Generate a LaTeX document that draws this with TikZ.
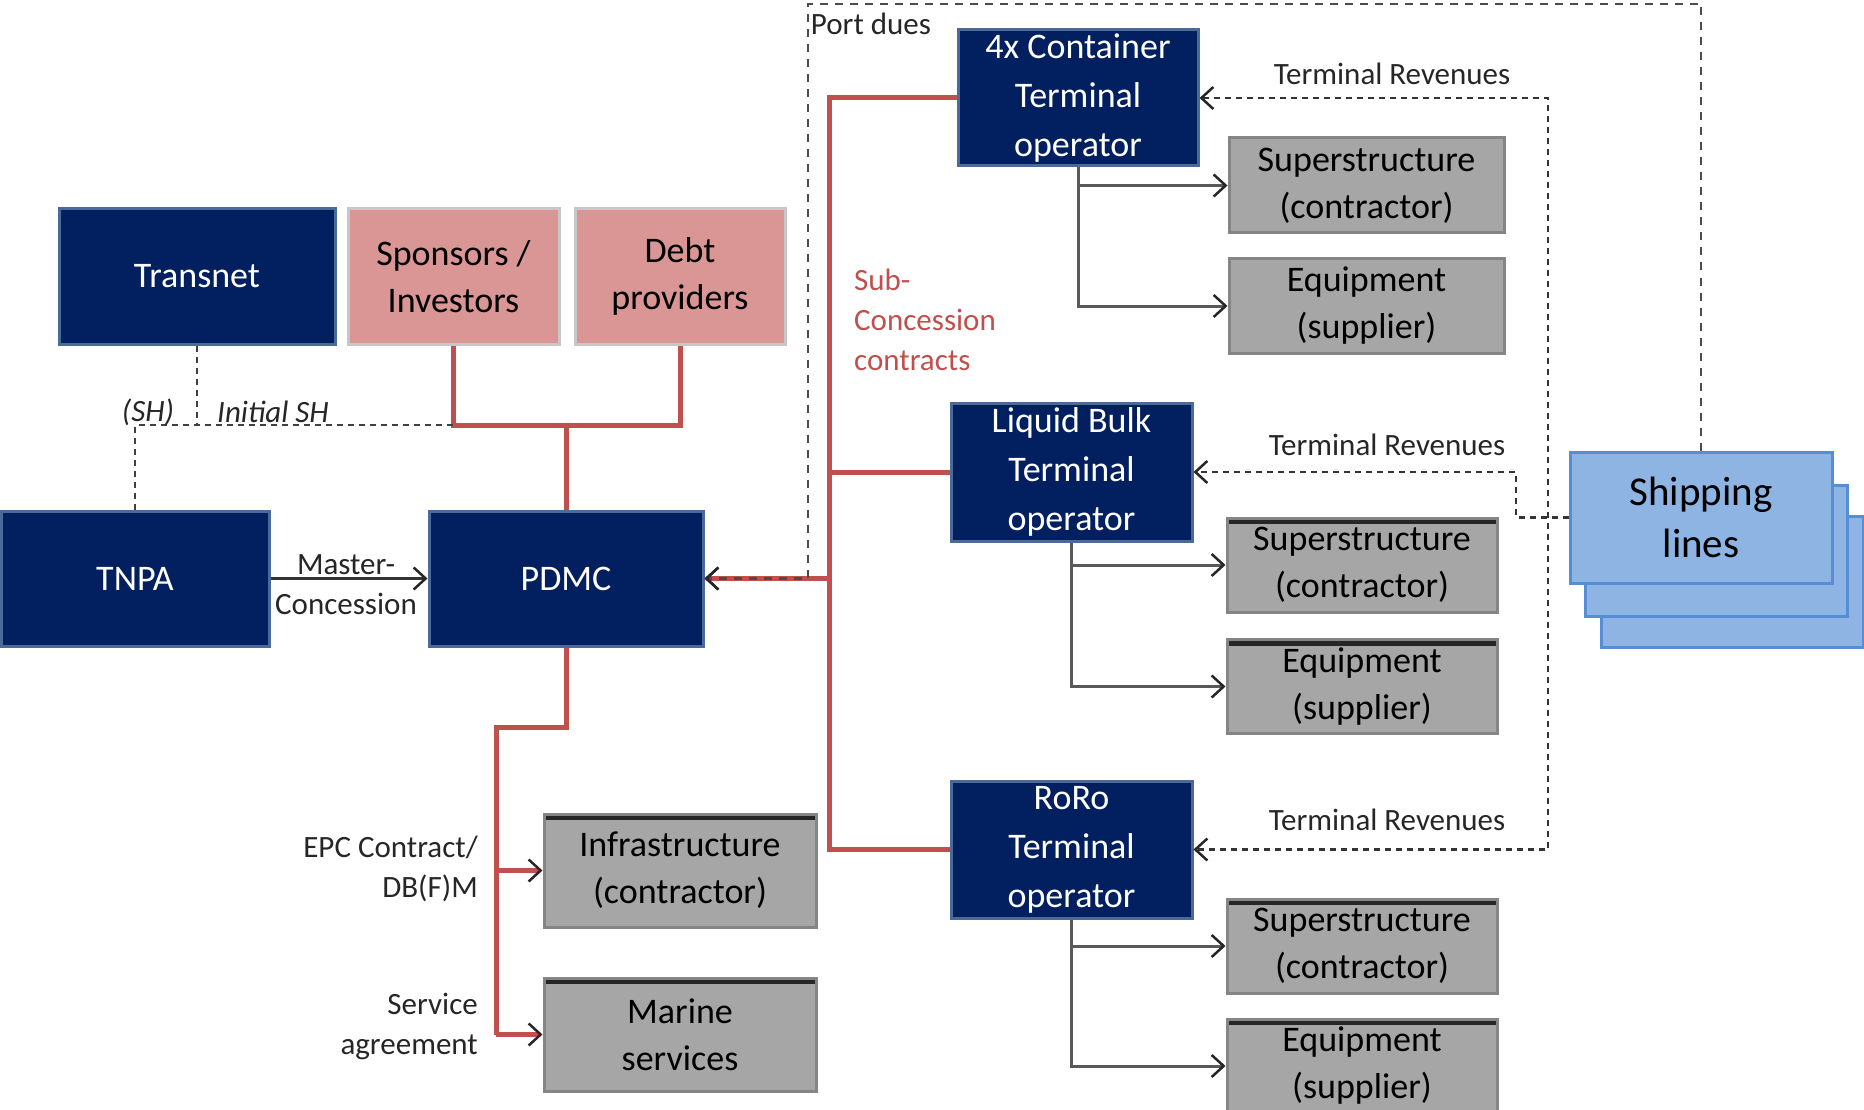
\documentclass[tikz,border=0pt]{standalone}
\usepackage{fontspec}
\setmainfont{Carlito}
\usetikzlibrary{arrows.meta}

\definecolor{navy}{HTML}{022060}
\definecolor{navyedge}{HTML}{4A6A9A}
\definecolor{pinkfill}{HTML}{D99694}
\definecolor{greyfill}{HTML}{A6A6A6}
\definecolor{shipfill}{HTML}{8DB4E2}
\definecolor{shipedge}{HTML}{558ED5}
\definecolor{subred}{HTML}{C0504D}

\begin{document}
\begin{tikzpicture}[x=1pt, y=-1pt,
  >={Straight Barb[length=12pt,width=22pt,line width=2.5pt,color=black!85]},
  box/.style={rectangle, align=center, inner sep=0pt, line width=3pt, font=\fontsize{36}{47}\selectfont},
  navy box/.style={box, fill=navy, draw=navyedge, text=white},
  op box/.style={navy box, font=\fontsize{36}{49}\selectfont},
  pink box/.style={box, fill=pinkfill, draw=black!22},
  grey box/.style={box, fill=greyfill, draw=greyfill!80!black, minimum width=270pt, minimum height=94pt},
  dark top/.style={path picture={\fill[black!85] (path picture bounding box.north west) rectangle ([yshift=-6pt]path picture bounding box.north east);}},
  ship box/.style={box, fill=shipfill, draw=shipedge, minimum width=262pt, minimum height=131pt, font=\fontsize{41}{52}\selectfont},
  lbl/.style={font=\fontsize{31}{40}\selectfont, text=black!85, align=center, inner sep=2pt},
  red line/.style={draw=subred, line width=5pt},
  sh line/.style={draw=black!75, line width=2.5pt, dash pattern=on 6pt off 5pt},
  due line/.style={draw=black!70, line width=2.5pt, dash pattern=on 8pt off 7pt},
  rev line/.style={draw=black!80, line width=2.5pt, dash pattern=on 6pt off 5pt},
  op line/.style={draw=black!65, line width=3pt},
  thin arrow/.style={draw=black!80, line width=2.5pt}]
\useasboundingbox (0,0) rectangle (1864,1110);

% owners and authority
\node[navy box, minimum width=276pt, minimum height=135pt] (transnet) at (197,276.5) {Transnet};
\node[pink box, minimum width=211pt, minimum height=135pt] (sponsors) at (453.5,276.5) {Sponsors /\\Investors};
\node[pink box, minimum width=210pt, minimum height=135pt] (debt) at (680,276.5) {Debt\\providers};
\node[navy box, minimum width=268pt, minimum height=135pt] (tnpa) at (135,578.5) {TNPA};
\node[navy box, minimum width=274pt, minimum height=135pt] (pdmc) at (566,578.5) {PDMC};

% terminals
\node[op box, minimum width=240pt, minimum height=136pt] (cont) at (1078,98) {4x Container\\Terminal\\operator};
\node[op box, minimum width=241pt, minimum height=138pt] (liq) at (1071.5,472) {Liquid Bulk\\Terminal\\operator};
\node[op box, minimum width=241pt, minimum height=137pt] (roro) at (1071.5,849.5) {RoRo\\Terminal\\operator};

\node[grey box, minimum width=275pt, minimum height=95pt] (sup1) at (1366.5,185.5) {Superstructure\\(contractor)};
\node[grey box, minimum width=275pt] (eq1) at (1366.5,306) {Equipment\\(supplier)};
\node[grey box, dark top] (sup2) at (1362,565) {Superstructure\\(contractor)};
\node[grey box, dark top] (eq2) at (1362,686.5) {Equipment\\(supplier)};
\node[grey box, dark top] (sup3) at (1362,946) {Superstructure\\(contractor)};
\node[grey box, dark top] (eq3) at (1362,1066) {Equipment\\(supplier)};

\node[grey box, dark top, minimum width=272pt, minimum height=113pt] (infra) at (680,870.5) {Infrastructure\\(contractor)};
\node[grey box, dark top, minimum width=272pt, minimum height=113pt] (marine) at (680,1034.5) {Marine\\services};

\node[ship box] (ship3) at (1732,582) {};
\node[ship box] (ship2) at (1716.5,551) {};
\node[ship box] (ship) at (1701,517.5) {Shipping\\lines};

\coordinate (eqjn) at (566,425);
\coordinate (trunk) at (829,0);
\coordinate (step) at (496,727);
\coordinate (duecorner) at (808,4);
\coordinate (revx) at (1548,0);
\coordinate (revmid) at (1516,0);

% shareholding
\draw[red line] (sponsors.south) |- (eqjn) -| (debt.south);
\draw[red line] (eqjn) -- (pdmc.north);
\draw[sh line] (transnet.south) -- (transnet.south |- eqjn);
\draw[sh line] (tnpa.north) -- (tnpa.north |- eqjn) -- (sponsors.south |- eqjn);
\node[lbl, font=\fontsize{31}{40}\selectfont\itshape] (shlbl) at (148,412) {(SH)};
\node[lbl, font=\fontsize{31}{40}\selectfont\itshape] (initlbl) at (273,412) {Initial SH};

\draw[thin arrow, ->] (tnpa.east) -- (pdmc.west);
\node[lbl] (mclbl) at (346,585) {Master-\\Concession};

% sub-concessions
\draw[red line] (cont.west) -| (trunk |- roro.west) -- (roro.west);
\draw[red line] (liq.west) -- (trunk |- liq.west);
\draw[red line, ->] (trunk |- pdmc.east) -- (pdmc.east);
\node[lbl, text=subred, align=left, anchor=west] (sublbl) at (852,320) {Sub-\\Concession\\contracts};

% port dues
\draw[due line, ->] (ship.north) |- (duecorner) |- (pdmc.east);
\node[lbl] (duelbl) at (871,24) {Port dues};

% revenues
\draw[rev line, <->] (cont.east) -| (revx |- roro.east) -- (roro.east);
\draw[rev line, ->] (ship.west) -| (revmid |- liq.east) -- (liq.east);
\node[lbl] (rev1) at (1392,74) {Terminal Revenues};
\node[lbl] (rev2) at (1387,445) {Terminal Revenues};
\node[lbl] (rev3) at (1387,820) {Terminal Revenues};

% terminal contracts
\draw[op line, ->] (cont.south) |- (sup1.west);
\draw[op line, ->] (cont.south) |- (eq1.west);
\draw[op line, ->] (liq.south) |- (sup2.west);
\draw[op line, ->] (liq.south) |- (eq2.west);
\draw[op line, ->] (roro.south) |- (sup3.west);
\draw[op line, ->] (roro.south) |- (eq3.west);

% pdmc contracts
\draw[red line] (pdmc.south) |- (step) -- (step |- marine.west);
\draw[red line, ->] (step |- infra.west) -- (infra.west);
\draw[red line, ->] (step |- marine.west) -- (marine.west);
\node[lbl, align=right, anchor=east] (epclbl) at (480,869) {EPC Contract/\\DB(F)M};
\node[lbl, align=right, anchor=east] (servlbl) at (480,1026) {Service\\agreement};
\end{tikzpicture}
\end{document}
